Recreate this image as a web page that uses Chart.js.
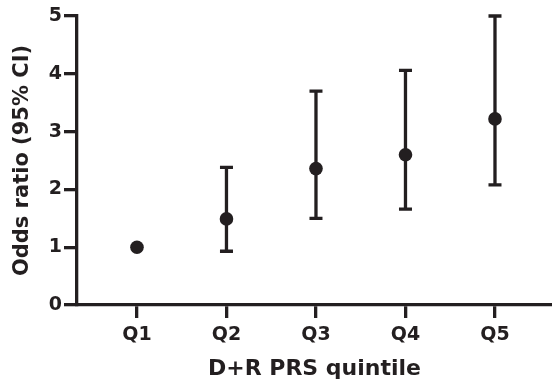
<!DOCTYPE html>
<html lang="en">
<head>
    <meta charset="UTF-8">
    <title>Odds ratio by D+R PRS quintile</title>
    <style>
        body { margin: 0; background: #fff; }
    </style>
</head>
<body>
    <canvas id="myChart" width="552" height="382"></canvas>
    <script src="https://cdn.jsdelivr.net/npm/chart.js"></script>
    <script>
        // datos
        const quintiles = ['Q1', 'Q2', 'Q3', 'Q4', 'Q5'];
        const oddsRatio = [1.00, 1.49, 2.36, 2.60, 3.22];
        const ciLower = [null, 0.93, 1.50, 1.66, 2.08];
        const ciUpper = [null, 2.38, 3.70, 4.06, 5.00];

        const ink = '#231f20';
        const fontFamily = '"DejaVu Sans", Arial, sans-serif';

        // barras de error dibujadas con las escalas del grafico
        const errorBars = {
            id: 'errorBars',
            beforeDatasetsDraw(chart) {
                const ctx = chart.ctx;
                const xs = chart.scales.x;
                const ys = chart.scales.y;
                ctx.save();
                ctx.strokeStyle = ink;
                ctx.lineWidth = 3.3;
                ctx.lineCap = 'butt';
                oddsRatio.forEach((v, i) => {
                    if (ciLower[i] == null) return;
                    const x = xs.getPixelForValue(i);
                    const yLo = ys.getPixelForValue(ciLower[i]);
                    const yHi = ys.getPixelForValue(ciUpper[i]);
                    ctx.beginPath();
                    ctx.moveTo(x, yLo);
                    ctx.lineTo(x, yHi);
                    ctx.moveTo(x - 6.5, yLo);
                    ctx.lineTo(x + 6.5, yLo);
                    ctx.moveTo(x - 6.5, yHi);
                    ctx.lineTo(x + 6.5, yHi);
                    ctx.stroke();
                });
                ctx.restore();
            }
        };

        const ctx = document.getElementById('myChart').getContext('2d');
        new Chart(ctx, {
            type: 'scatter',
            data: {
                datasets: [{
                    data: oddsRatio.map((v, i) => ({ x: i, y: v })),
                    backgroundColor: ink,
                    borderColor: ink,
                    pointRadius: 6.8,
                    borderWidth: 0,
                    clip: false
                }]
            },
            options: {
                responsive: false,
                animation: false,
                layout: { autoPadding: false, padding: { top: 16, right: 0, left: 0, bottom: 0 } },
                plugins: {
                    legend: { display: false },
                    tooltip: { enabled: false }
                },
                scales: {
                    x: {
                        type: 'linear',
                        min: -0.67,
                        max: 4.637,
                        afterBuildTicks: s => { s.ticks = quintiles.map((q, i) => ({ value: i })); },
                        afterFit: s => { s.height = 77; },
                        ticks: {
                            callback: (v) => quintiles[v],
                            color: ink,
                            padding: 6,
                            maxRotation: 0,
                            font: { family: fontFamily, size: 19, weight: 'bold' }
                        },
                        grid: {
                            drawOnChartArea: false,
                            tickLength: 13,
                            lineWidth: 3.3,
                            color: ink
                        },
                        border: { color: ink, width: 3.3 },
                        title: {
                            display: true,
                            text: 'D+R PRS quintile',
                            color: ink,
                            padding: { top: 0, bottom: 0 },
                            font: { family: fontFamily, size: 22, weight: 'bold' }
                        }
                    },
                    y: {
                        min: 0,
                        max: 5,
                        afterFit: s => { s.width = 77; },
                        ticks: {
                            stepSize: 1,
                            color: ink,
                            padding: 2,
                            font: { family: fontFamily, size: 19, weight: 'bold' }
                        },
                        grid: {
                            drawOnChartArea: false,
                            tickLength: 13,
                            lineWidth: 3.3,
                            color: ink
                        },
                        border: { color: ink, width: 3.3 },
                        title: {
                            display: true,
                            text: 'Odds ratio (95% CI)',
                            color: ink,
                            padding: { top: 10, bottom: 0 },
                            font: { family: fontFamily, size: 21, weight: 'bold' }
                        }
                    }
                }
            },
            plugins: [errorBars]
        });
    </script>
</body>
</html>
